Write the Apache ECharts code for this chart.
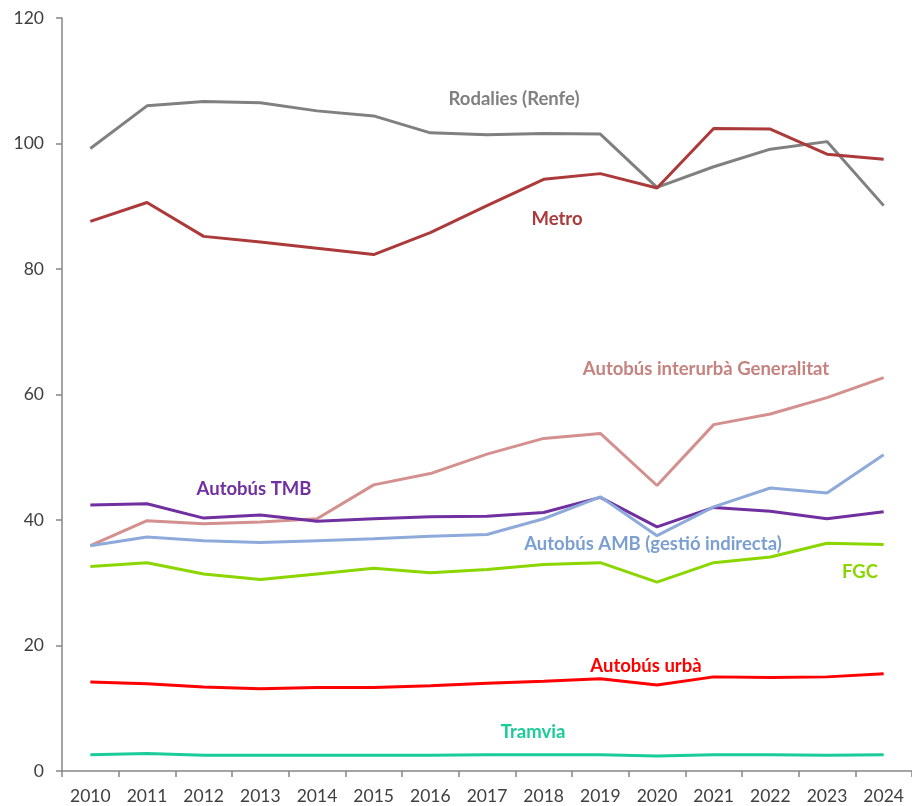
<!DOCTYPE html>
<html>
<head>
<meta charset="utf-8">
<script src="https://cdn.jsdelivr.net/npm/echarts@6/dist/echarts.min.js"></script>
<style>html,body{margin:0;padding:0;background:#fff}#c{width:912px;height:806px}</style>
</head>
<body>
<div id="c"></div>
<script>
const years = ['2010','2011','2012','2013','2014','2015','2016','2017','2018','2019','2020','2021','2022','2023','2024'];
const rodalies = [99.2,106.0,106.7,106.5,105.2,104.4,101.7,101.4,101.6,101.5,93.0,96.3,99.1,100.3,90.1];
const metro = [87.6,90.6,85.2,84.3,83.3,82.3,85.8,90.1,94.3,95.2,92.9,102.4,102.3,98.3,97.5];
const interurba = [35.9,39.9,39.4,39.7,40.2,45.6,47.4,50.5,53.0,53.8,45.5,55.2,56.9,59.5,62.7];
const tmb = [42.4,42.6,40.3,40.8,39.8,40.2,40.5,40.6,41.2,43.6,38.9,42.0,41.4,40.2,41.3];
const amb = [35.9,37.3,36.7,36.4,36.7,37.0,37.4,37.7,40.2,43.7,37.5,42.1,45.1,44.3,50.4];
const fgc = [32.6,33.2,31.4,30.5,31.4,32.3,31.6,32.1,32.9,33.2,30.1,33.2,34.1,36.3,36.1];
const urba = [14.2,13.9,13.4,13.1,13.3,13.3,13.6,14.0,14.3,14.7,13.7,15.0,14.9,15.0,15.5];
const tramvia = [2.6,2.8,2.5,2.5,2.5,2.5,2.5,2.6,2.6,2.6,2.4,2.6,2.6,2.5,2.6];

const seriesDefs = [
  {name:'Rodalies (Renfe)', data:rodalies, color:'#808080', label:'#808080', lx:514, ly:99},
  {name:'Metro', data:metro, color:'#AC3A3A', label:'#AC3A3A', lx:557, ly:219},
  {name:'Autobús interurbà Generalitat', data:interurba, color:'#D4908E', label:'#C5827F', lx:706, ly:369},
  {name:'Autobús TMB', data:tmb, color:'#7030A0', label:'#7030A0', lx:254, ly:489},
  {name:'Autobús AMB (gestió indirecta)', data:amb, color:'#8EAADB', label:'#7B9FD3', lx:653, ly:544},
  {name:'FGC', data:fgc, color:'#8CD600', label:'#8CD600', lx:860, ly:572},
  {name:'Autobús urbà', data:urba, color:'#FF0000', label:'#FF0000', lx:646, ly:666},
  {name:'Tramvia', data:tramvia, color:'#1ACC9A', label:'#1ACC9A', lx:533, ly:732}
];

const chart = echarts.init(document.getElementById('c'), null, {renderer:'canvas'});
const font = 'Lato, "Open Sans", "Liberation Sans", sans-serif';
chart.setOption({
  animation:false,
  backgroundColor:'#fff',
  grid:{left:62, top:18, bottom:35, width:853},
  xAxis:{
    type:'category', data:years, boundaryGap:true,
    axisLine:{lineStyle:{color:'#868686', width:1.5}},
    axisTick:{show:true, length:6, alignWithLabel:false, lineStyle:{color:'#868686', width:1.5}},
    axisLabel:{color:'#404040', fontSize:17.5, fontFamily:font, margin:16}
  },
  yAxis:{
    type:'value', min:0, max:120, interval:20,
    splitLine:{show:false},
    axisLine:{show:true, lineStyle:{color:'#868686', width:1.5}},
    axisTick:{show:true, length:6, lineStyle:{color:'#868686', width:1.5}},
    axisLabel:{color:'#404040', fontSize:17.5, fontFamily:font, margin:18}
  },
  series: seriesDefs.map(s => ({
    name:s.name, type:'line', data:s.data, symbol:'none',
    lineStyle:{color:s.color, width:3}, itemStyle:{color:s.color}
  })),
  graphic: seriesDefs.map(s => ({
    type:'text', x:s.lx, y:s.ly,
    style:{text:s.name, fill:s.label, font:'bold 18.5px ' + font, textAlign:'center', textVerticalAlign:'middle'}
  }))
});
</script>
</body>
</html>
